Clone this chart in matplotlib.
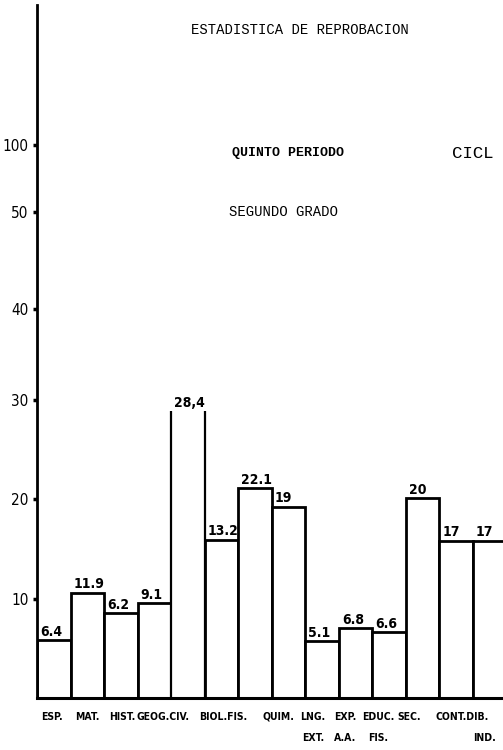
import matplotlib
matplotlib.use("Agg")
import matplotlib.pyplot as plt

# values written over the bars, and the heights the bars are drawn to
value_labels = ['6.4', '11.9', '6.2', '9.1', '28,4', '13.2', '22.1', '19',
                '5.1', '6.8', '6.6', '20', '17', '17']
bar_heights = [5.8, 10.6, 8.5, 9.5, 28.8, 15.9, 21.1, 19.2,
               5.7, 7.0, 6.6, 20.1, 15.8, 15.8]
open_bar = 4  # the 28.4 bar has no top line

# subject labels under the axis (two rows)
subj_top = ['ESP.', 'MAT.', 'HIST.', 'GEOG.CIV.', 'BIOL.FIS.', 'QUIM.',
            'LNG.', 'EXP.', 'EDUC.', 'SEC.', 'CONT.DIB.']
subj_top_x = [0.45, 1.5, 2.55, 3.75, 5.55, 7.2, 8.24, 9.19, 10.18, 11.1, 12.7]
subj_bottom = ['EXT.', 'A.A.', 'FIS.', 'IND.']
subj_bottom_x = [8.24, 9.19, 10.18, 13.37]

# y axis is not to scale above 30
ytick_pos = [10, 20, 30, 39.1, 48.8, 55.6]
ytick_lab = ['10', '20', '30', '40', '50', '100']

mono = ['Liberation Mono', 'DejaVu Sans Mono']
sans = ['DejaVu Sans']

fig = plt.figure(figsize=(5.03, 7.5), dpi=100)
ax = fig.add_axes([37 / 503, 1 - 698 / 750, 1 - 37 / 503, 693 / 750])
ax.set_xlim(0, 13.91)
ax.set_ylim(0, 69.65)

xs = list(range(len(bar_heights)))
colors = ['none' if i == open_bar else 'black' for i in xs]
ax.bar(xs, bar_heights, width=1, align='edge', facecolor='white',
       edgecolor=colors, linewidth=2)
ax.vlines([open_bar, open_bar + 1], 0, bar_heights[open_bar],
          color='black', linewidth=1.6)

for i, (h, t) in enumerate(zip(bar_heights, value_labels)):
    ax.text(i + 0.1, h + 0.15, t, ha='left', va='bottom', fontsize=10,
            fontweight='bold', family=sans, fontstretch='condensed')

for x, t in zip(subj_top_x, subj_top):
    ax.text(x, -1.9, t, ha='center', va='center', fontsize=7.5,
            fontweight='heavy', family=sans, fontstretch='condensed',
            clip_on=False)
for x, t in zip(subj_bottom_x, subj_bottom):
    ax.text(x, -4.0, t, ha='center', va='center', fontsize=7.5,
            fontweight='heavy', family=sans, fontstretch='condensed',
            clip_on=False)

ax.set_yticks(ytick_pos)
ax.set_yticklabels(ytick_lab, fontsize=11, family=sans,
                   fontstretch='condensed')
ax.set_xticks([])
ax.tick_params(axis='y', length=3, width=2.5, pad=3)
for s in ['top', 'right']:
    ax.spines[s].set_visible(False)
ax.spines['left'].set_linewidth(2)
ax.spines['bottom'].set_linewidth(2.2)

# headings
fig.text(300 / 503, 1 - 30 / 750, 'ESTADISTICA DE REPROBACION', ha='center',
         va='center', fontsize=10, family=mono)
fig.text(288 / 503, 1 - 153 / 750, 'QUINTO PERIODO', ha='center',
         va='center', fontsize=9.5, fontweight='bold', family=mono)
fig.text(452 / 503, 1 - 153 / 750, 'CICL', ha='left', va='center',
         fontsize=12.5, family=mono)
fig.text(283 / 503, 1 - 212 / 750, 'SEGUNDO GRADO', ha='center',
         va='center', fontsize=10, family=mono)

fig.savefig('out.png', dpi=100)
